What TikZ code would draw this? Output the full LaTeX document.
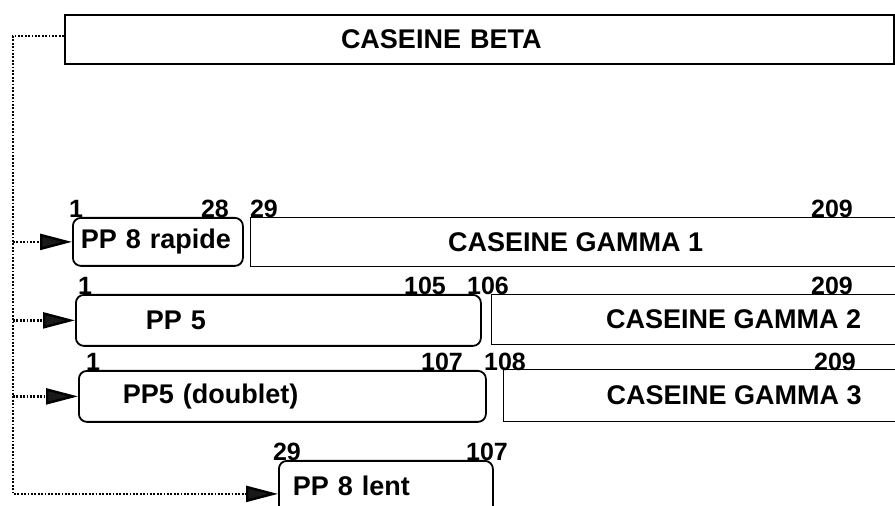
\documentclass[tikz,border=0pt]{standalone}
\usepackage{fontspec}
\setmainfont{Liberation Sans}
\usetikzlibrary{arrows.meta}
\tikzset{
  chain/.style={draw, line width=0.7pt, anchor=north west, inner ysep=0pt,
    font=\bfseries\fontsize{13.5}{16}\selectfont},
  frag/.style={chain, line width=0.9pt, rounded corners=4pt, align=left},
  num/.style={anchor=base, inner sep=0pt, font=\bfseries\fontsize{12.5}{15}\selectfont},
  dots/.style={line width=1.2pt, dash pattern=on 0.9pt off 0.8pt},
  link/.style={dots, -{Triangle[length=16pt, width=8pt, fill=black!90]}}
}
\begin{document}
\begin{tikzpicture}[x=0.5pt, y=-0.5pt]
  \useasboundingbox (0,0) rectangle (895,506);
  \clip (0,0) rectangle (895,506);
  % whole protein
  \node [chain, line width=1pt, align=left, inner xsep=138pt, text width=138.5pt,
    minimum height=24.5pt] (beta) at (64,14) {CASEINE BETA};
  % fragments
  \node [frag, inner xsep=4pt, text width=77pt, minimum height=24pt] (pp8r) at (72,217) {PP 8 rapide};
  \node [chain, minimum width=325pt, minimum height=24.5pt] (g1) at (250,217) {CASEINE GAMMA 1};
  \node [frag, inner xsep=35pt, text width=132.5pt, minimum height=25.5pt] (pp5) at (75,294) {PP 5};
  \node [chain, minimum width=242pt, minimum height=25pt] (g2) at (491,294) {CASEINE GAMMA 2};
  \node [frag, inner xsep=22pt, text width=159.5pt, minimum height=25.5pt] (pp5d) at (78,370) {PP5 (doublet)};
  \node [chain, minimum width=230.5pt, minimum height=26pt] (g3) at (503,369) {CASEINE GAMMA 3};
  \node [frag, inner xsep=7pt, text width=93pt, minimum height=33pt, text depth=8pt] (pp8l) at (278,460) {PP 8 lent};
  % residue numbers
  \node [num] (r1a) at (76,218) {1};
  \node [num] (r28) at (215,218) {28};
  \node [num] (r29a) at (264,218) {29};
  \node [num] (r209a) at (832,218) {209};
  \node [num] (r1b) at (85,295) {1};
  \node [num] (r105) at (425,295) {105};
  \node [num] (r106) at (488,295) {106};
  \node [num] (r209b) at (832,295) {209};
  \node [num] (r1c) at (93,371) {1};
  \node [num] (r107a) at (442,371) {107};
  \node [num] (r108) at (505,371) {108};
  \node [num] (r209c) at (835,371) {209};
  \node [num] (r29b) at (287,461) {29};
  \node [num] (r107b) at (487,461) {107};
  % links
  \coordinate (trunk) at (13,36);
  \draw [link] (beta.west |- trunk) -- (trunk) |- (pp8l.west);
  \foreach \f in {pp8r, pp5, pp5d}
    \draw [link] (trunk |- \f.west) -- (\f.west);
\end{tikzpicture}
\end{document}
